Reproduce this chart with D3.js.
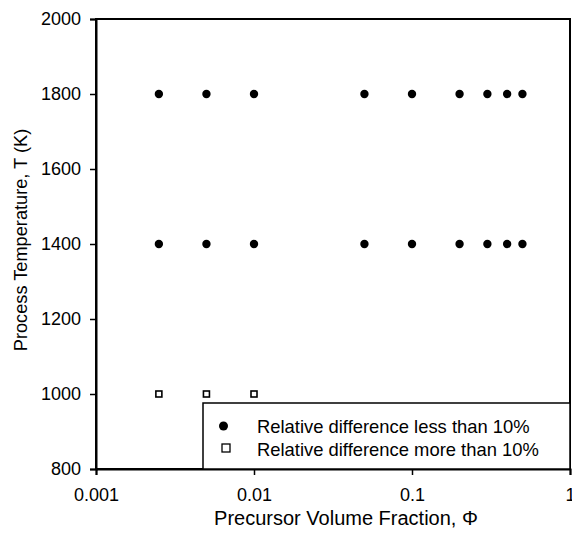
<!DOCTYPE html>
<html><head><meta charset="utf-8">
<script src="https://cdn.jsdelivr.net/npm/d3@7"></script>
<style>body{margin:0;background:#fff}text{font-family:"Liberation Sans",Arial,sans-serif;fill:#000}</style>
</head><body><svg id="c" width="572" height="538"></svg>
<script>
const xTicks = [0.001, 0.01, 0.1, 1];
const xTickLabels = ["0.001", "0.01", "0.1", "1"];
const yTicks = [800, 1000, 1200, 1400, 1600, 1800, 2000];
const lessX = [0.0025, 0.005, 0.01, 0.05, 0.1, 0.2, 0.3, 0.4, 0.5];
const lessT = [1800, 1400];
const moreX = [0.0025, 0.005, 0.01];
const moreT = [1000];
const legendLabels = ["Relative difference less than 10%", "Relative difference more than 10%"];

const svg = d3.select("#c");
const L = 96, R = 570, T = 19, B = 469;
const x = d3.scaleLog().domain([0.001, 1]).range([L, R]);
const y = d3.scaleLinear().domain([800, 2000]).range([B, T]);

// frame
svg.append("rect").attr("x", L).attr("y", T).attr("width", R - L).attr("height", B - T)
  .attr("fill", "none").attr("stroke", "#000").attr("stroke-width", 2);

const xa = svg.append("g").attr("transform", `translate(0,${B})`)
  .call(d3.axisBottom(x).tickValues(xTicks).tickFormat((d, i) => xTickLabels[i]).tickSize(6).tickPadding(13.5));
const ya = svg.append("g").attr("transform", `translate(${L},0)`)
  .call(d3.axisLeft(y).tickValues(yTicks).tickFormat(d3.format("d")).tickSize(6).tickPadding(9));
[xa, ya].forEach(a => {
  a.select(".domain").attr("stroke-width", 2);
  a.selectAll(".tick line").attr("stroke-width", 1.5);
  a.selectAll("text").attr("font-size", 18).attr("font-family", '"Liberation Sans",Arial,sans-serif');
});

// filled points
const less = [];
lessT.forEach(t => lessX.forEach(v => less.push([v, t])));
svg.append("g").selectAll("circle").data(less).join("circle")
  .attr("cx", d => x(d[0])).attr("cy", d => y(d[1])).attr("r", 4.2).attr("fill", "#000");

const more = [];
moreT.forEach(t => moreX.forEach(v => more.push([v, t])));
svg.append("g").selectAll("rect").data(more).join("rect")
  .attr("x", d => x(d[0]) - 3).attr("y", d => y(d[1]) - 3).attr("width", 6).attr("height", 6)
  .attr("fill", "#fff").attr("stroke", "#000").attr("stroke-width", 1.6);

// legend
const lg = svg.append("g");
lg.append("rect").attr("x", 203).attr("y", 403).attr("width", R - 203).attr("height", B - 403)
  .attr("fill", "#fff").attr("stroke", "#000").attr("stroke-width", 1.5);
lg.append("circle").attr("cx", 223.5).attr("cy", 426).attr("r", 4.5).attr("fill", "#000");
lg.append("rect").attr("x", 222).attr("y", 444).attr("width", 8).attr("height", 8)
  .attr("fill", "#fff").attr("stroke", "#000").attr("stroke-width", 1.3);
lg.selectAll("text").data(legendLabels).join("text")
  .attr("x", 257).attr("y", (d, i) => 432.5 + i * 23).attr("font-size", 18.4).text(d => d);

svg.append("text").attr("x", 346).attr("y", 525).attr("text-anchor", "middle")
  .attr("font-size", 20).text("Precursor Volume Fraction, Φ");
svg.append("text").attr("transform", `translate(27,240) rotate(-90)`)
  .attr("text-anchor", "middle").attr("font-size", 18.2).text("Process Temperature, T (K)");
</script></body></html>
